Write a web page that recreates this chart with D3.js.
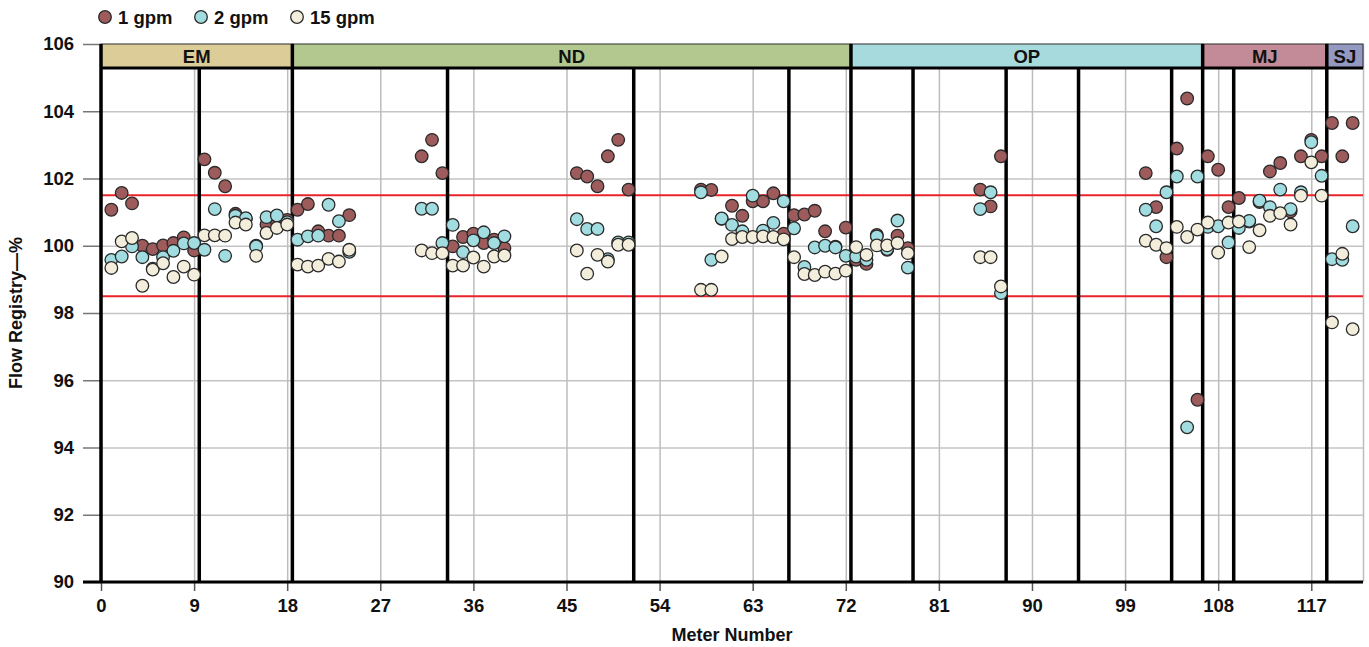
<!DOCTYPE html>
<html><head><meta charset="utf-8">
<script src="https://cdn.jsdelivr.net/npm/d3@7/dist/d3.min.js"></script>
<style>
html,body{margin:0;padding:0;background:#fff;}
svg{display:block;font-family:"Liberation Sans",Arial,Helvetica,sans-serif;font-weight:bold;}
</style></head>
<body><svg id="chart" width="1369" height="647"></svg>
<script>
// ---- data ----
const meters = [1,2,3,4,5,6,7,8,9,10,11,12,13,14,15,16,17,18,19,20,21,22,23,24,
  31,32,33,34,35,36,37,38,39,
  46,47,48,49,50,51,
  58,59,60,61,62,63,64,65,66,67,68,69,70,71,72,73,74,75,76,77,78,
  85,86,87,
  101,102,103,104,105,106,107,108,109,110,111,112,113,114,115,116,117,118,119,120,121];

const gpm1 = [101.07,101.57,101.26,100.00,99.90,100.01,100.08,100.25,99.86,102.57,102.17,101.77,100.95,100.80,100.00,100.63,100.72,100.77,101.07,101.24,100.43,100.30,100.30,100.91,
  102.66,103.15,102.16,99.98,100.26,100.36,100.08,100.18,99.93,
  102.16,102.06,101.77,102.66,103.15,101.67,
  101.67,101.66,100.80,101.19,100.89,101.32,101.32,101.56,100.36,100.91,100.93,101.04,100.43,99.97,100.54,99.58,99.46,100.32,99.88,100.30,99.93,
  101.67,101.17,102.66,
  102.16,101.15,99.66,102.89,104.38,95.42,102.66,102.26,101.15,101.42,100.72,101.30,102.21,102.46,101.02,102.66,103.15,102.66,103.65,102.66,103.65];

const gpm2 = [99.58,99.68,99.98,99.66,99.32,99.66,99.85,100.07,100.08,99.88,101.09,99.70,100.89,100.82,99.98,100.85,100.90,100.70,100.18,100.28,100.30,101.22,100.73,99.82,
  101.10,101.10,100.08,100.62,99.81,100.16,100.40,100.08,100.28,
  100.79,100.50,100.50,99.60,100.10,100.10,
  101.59,99.58,100.81,100.62,100.43,101.49,100.45,100.68,101.32,100.52,99.37,99.95,100.00,99.95,99.70,99.68,99.58,100.28,99.90,100.75,99.35,
  101.09,101.59,98.59,
  101.07,100.58,101.59,102.06,94.60,102.06,100.56,100.58,100.10,100.53,100.74,101.34,101.15,101.67,101.09,101.59,103.08,102.08,99.60,99.58,100.58];

const gpm15 = [99.34,100.13,100.23,98.81,99.29,99.48,99.07,99.38,99.14,100.31,100.31,100.30,100.69,100.63,99.70,100.38,100.53,100.63,99.44,99.38,99.41,99.61,99.53,99.88,
  99.86,99.78,99.78,99.41,99.41,99.65,99.38,99.68,99.71,
  99.86,99.17,99.73,99.53,100.03,100.03,
  98.69,98.69,99.68,100.20,100.26,100.26,100.28,100.26,100.19,99.66,99.16,99.13,99.23,99.17,99.26,99.96,99.73,100.01,100.01,100.08,99.78,
  99.66,99.66,98.79,
  100.15,100.03,99.93,100.56,100.26,100.48,100.69,99.80,100.69,100.72,99.96,100.46,100.89,100.97,100.63,101.49,102.48,101.49,97.72,99.76,97.52];

const seriesNames = ["1 gpm","2 gpm","15 gpm"];
const seriesColors = ["#9e5b5c","#a1dce0","#f3eedb"];

const bandNames  = ["EM","ND","OP","MJ","SJ"];
const bandStarts = [0,18.5,72.5,106.5,118.5];
const bandEnds   = [18.5,72.5,106.5,118.5,122];
const bandColors = ["#dccc98","#b2c88f","#a6dadd","#c28b97","#9399c1"];

const dividers = [0,9.5,18.5,33.5,51.5,66.5,72.5,78.5,87.5,94.5,103.5,106.5,109.5,118.5];
const limits = [98.5,101.5];

const xTicks = [0,9,18,27,36,45,54,63,72,81,90,99,108,117];
const yTicks = [90,92,94,96,98,100,102,104,106];

// ---- layout ----
const svg = d3.select("#chart");
const margin = {left:101, right:6, top:44, bottom:65};
const W = 1369 - margin.left - margin.right;
const H = 647 - margin.top - margin.bottom;
const bandH = 24;

const x = d3.scaleLinear().domain([0,122]).range([0,W]);
const y = d3.scaleLinear().domain([90,106]).range([H,0]);

const g = svg.append("g").attr("transform",`translate(${margin.left},${margin.top})`);

// horizontal grid
g.append("g").call(d3.axisLeft(y).tickValues(yTicks).tickSize(-W).tickFormat(""))
  .call(s=>s.select(".domain").remove())
  .call(s=>s.selectAll("line").attr("stroke","#c4c4c4").attr("stroke-width",1.5));
// vertical grid
g.append("g").call(d3.axisBottom(x).tickValues(xTicks.concat([122])).tickSize(H).tickFormat(""))
  .call(s=>s.select(".domain").remove())
  .call(s=>s.selectAll("line").attr("stroke","#bdbdbd").attr("stroke-width",1.5));

// y axis ticks + labels
const ya = g.append("g").call(d3.axisLeft(y).tickValues(yTicks).tickSize(18).tickPadding(9));
ya.select(".domain").remove();
ya.selectAll("line").attr("stroke","#777").attr("stroke-width",1.5);
ya.selectAll("text").attr("font-size",18.5).attr("font-weight","bold").attr("fill","#111")
  .attr("font-family",'"Liberation Sans",Arial,sans-serif');

// limit lines
g.selectAll(".limit").data(limits).join("line")
  .attr("x1",x(0)).attr("x2",x(122)).attr("y1",d=>y(d)).attr("y2",d=>y(d))
  .attr("stroke","#e8242a").attr("stroke-width",2);

// divider lines
g.selectAll(".div").data(dividers).join("line")
  .attr("x1",d=>x(d)).attr("x2",d=>x(d)).attr("y1",bandH).attr("y2",H)
  .attr("stroke","#000").attr("stroke-width",3.5);

// bands
const bands = bandNames.map((n,i)=>({name:n,s:bandStarts[i],e:bandEnds[i],c:bandColors[i]}));
g.selectAll(".band").data(bands).join("rect")
  .attr("x",d=>x(d.s)).attr("y",0).attr("width",d=>x(d.e)-x(d.s)).attr("height",bandH)
  .attr("fill",d=>d.c).attr("stroke","#333").attr("stroke-width",1);
g.append("line").attr("x1",x(0)).attr("x2",x(122)).attr("y1",bandH).attr("y2",bandH)
  .attr("stroke","#000").attr("stroke-width",3);
g.selectAll(".bsep").data(bandStarts).join("line")
  .attr("x1",d=>x(d)).attr("x2",d=>x(d)).attr("y1",0).attr("y2",bandH)
  .attr("stroke","#000").attr("stroke-width",3.5);
g.selectAll(".blab").data(bands).join("text")
  .attr("x",d=>(x(d.s)+x(d.e))/2).attr("y",bandH/2+6.5)
  .attr("text-anchor","middle").attr("font-size",18.5).attr("fill","#111").text(d=>d.name);

// x axis
const xa = g.append("g").attr("transform",`translate(0,${H})`)
  .call(d3.axisBottom(x).tickValues(xTicks).tickSize(9).tickPadding(8));
xa.select(".domain").remove();
xa.selectAll("line").attr("stroke","#555").attr("stroke-width",1.5);
xa.selectAll("text").attr("font-size",18.5).attr("font-weight","bold").attr("fill","#111")
  .attr("font-family",'"Liberation Sans",Arial,sans-serif');
g.append("line").attr("x1",x(0)-18).attr("x2",x(122)).attr("y1",H).attr("y2",H)
  .attr("stroke","#000").attr("stroke-width",3);

// points
const series = [gpm1,gpm2,gpm15];
series.forEach((vals,si)=>{
  g.append("g").selectAll("circle").data(meters.map((m,i)=>({m:m,v:vals[i]})).filter(d=>d.v!=null))
    .join("circle")
    .attr("cx",d=>x(d.m)).attr("cy",d=>y(d.v)).attr("r",6.3)
    .attr("fill",seriesColors[si]).attr("stroke","#2a2a2a").attr("stroke-width",1.3);
});

// axis titles
svg.append("text").attr("x",margin.left+W/2).attr("y",641).attr("text-anchor","middle")
  .attr("font-size",18).attr("fill","#111").text("Meter Number");
svg.append("text").attr("transform",`translate(22,${margin.top+H/2}) rotate(-90)`)
  .attr("text-anchor","middle").attr("font-size",18).attr("fill","#111").text("Flow Registry—%");

// legend
const legX = [105,201,297];
const leg = svg.append("g");
seriesNames.forEach((n,i)=>{
  leg.append("circle").attr("cx",legX[i]).attr("cy",17).attr("r",6.3)
    .attr("fill",seriesColors[i]).attr("stroke","#2a2a2a").attr("stroke-width",1.3);
  leg.append("text").attr("x",legX[i]+13).attr("y",23.5).attr("font-size",18.5).attr("fill","#111").text(n);
});
</script></body></html>
